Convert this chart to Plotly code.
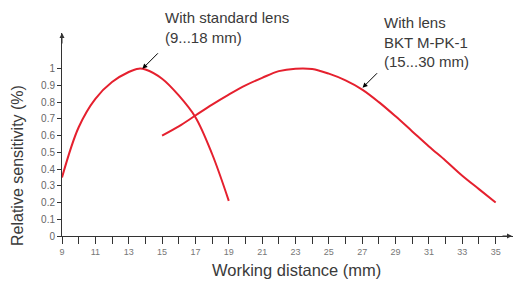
import plotly.graph_objects as go

# Data
std_x = [9, 10, 11, 12, 13, 13.6, 14, 15, 16, 17, 18, 19]
std_y = [0.35, 0.65, 0.82, 0.92, 0.98, 1.0, 0.995, 0.94, 0.84, 0.71, 0.49, 0.21]

bkt_x = [15, 16, 17, 18, 19, 20, 21, 22, 23, 24, 25, 26, 27, 28, 29, 30, 31, 32, 33, 34, 35]
bkt_y = [0.60, 0.655, 0.72, 0.785, 0.845, 0.90, 0.945, 0.985, 1.0, 0.998, 0.97, 0.93, 0.875, 0.80, 0.715, 0.625, 0.535, 0.45, 0.36, 0.28, 0.20]

x_ticks = list(range(9, 36))
x_labels = [str(v) if v % 2 == 1 else "" for v in x_ticks]
y_ticks = [i / 10 for i in range(11)]
y_labels = ["0", "0.1", "0.2", "0.3", "0.4", "0.5", "0.6", "0.7", "0.8", "0.9", "1"]

RED = "#e5202e"
AX = "#333333"
TXT = "#3a3a3a"
FONT = "Liberation Sans, Arial, sans-serif"

fig = go.Figure()
fig.add_trace(go.Scatter(x=std_x, y=std_y, mode="lines",
                         line=dict(color=RED, width=2, shape="spline", smoothing=1.0)))
fig.add_trace(go.Scatter(x=bkt_x, y=bkt_y, mode="lines",
                         line=dict(color=RED, width=2, shape="spline", smoothing=1.0)))

fig.update_layout(
    width=513, height=282,
    margin=dict(l=62, r=0, t=33, b=46),
    paper_bgcolor="white", plot_bgcolor="white",
    showlegend=False,
    font=dict(family=FONT, color=AX),
)
fig.update_xaxes(range=[9, 36.04], tickvals=x_ticks, ticktext=x_labels,
                 ticks="outside", ticklen=7, tickcolor=AX, tickwidth=1,
                 showline=True, linecolor=AX, linewidth=1,
                 showgrid=False, zeroline=False,
                 tickfont=dict(size=9, color="#777777"))
fig.update_yaxes(range=[0, 1.213], tickvals=y_ticks, ticktext=y_labels,
                 ticks="outside", ticklen=4, tickcolor=AX, tickwidth=1,
                 showline=True, linecolor=AX, linewidth=1,
                 showgrid=False, zeroline=False,
                 tickfont=dict(size=10, color="#666666"))

annots = [
    # axis arrowheads
    dict(xref="paper", yref="paper", x=1.0, y=0, ax=-12, ay=0,
         showarrow=True, arrowhead=2, arrowsize=1, arrowwidth=1, arrowcolor=AX, text=""),
    dict(xref="paper", yref="paper", x=0, y=1.0, ax=0, ay=12,
         showarrow=True, arrowhead=2, arrowsize=1, arrowwidth=1, arrowcolor=AX, text=""),
    # axis titles
    dict(xref="paper", yref="paper", x=(296 - 62) / 451, y=-(270 - 236) / 203,
         text="Working distance (mm)", showarrow=False, xanchor="center", yanchor="middle",
         font=dict(size=16.5, color=TXT)),
    dict(xref="paper", yref="paper", x=-(62 - 17) / 451, y=(236 - 166) / 203,
         text="Relative sensitivity (%)", showarrow=False, textangle=-90,
         xanchor="center", yanchor="middle", font=dict(size=16, color=TXT)),
    # labels
    dict(x=15.04, xref="x", yref="paper", y=(236 - 7) / 203,
         text="With standard lens<br>(9...18 mm)", showarrow=False,
         xanchor="left", yanchor="top", align="left", font=dict(size=15, color=TXT)),
    dict(x=13.82, y=0.999, ax=17, ay=-17, text="", showarrow=True,
         arrowhead=2, arrowsize=1, arrowwidth=1, arrowcolor="black"),
    dict(x=28.2, xref="x", yref="paper", y=(236 - 12) / 203,
         text="With lens<br>BKT M-PK-1<br>(15...30 mm)", showarrow=False,
         xanchor="left", yanchor="top", align="left", font=dict(size=15, color=TXT)),
    dict(x=27.02, y=0.886, ax=16, ay=-16, text="", showarrow=True,
         arrowhead=2, arrowsize=1, arrowwidth=1, arrowcolor="black"),
]
fig.update_layout(annotations=annots)

fig.write_html("out.html", config={"displayModeBar": False},
               post_script="document.body.style.margin='0';document.body.style.padding='0';")
